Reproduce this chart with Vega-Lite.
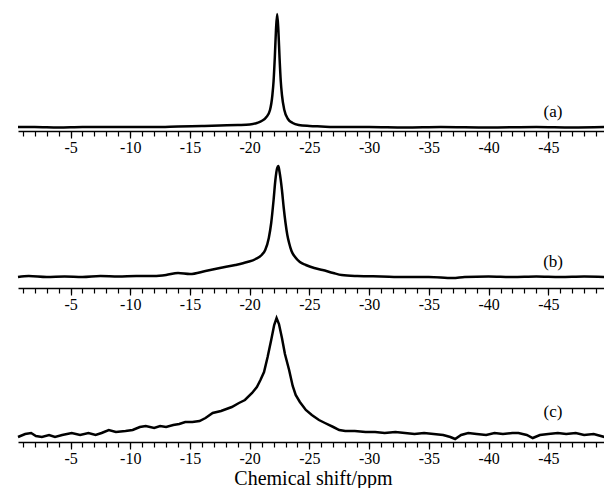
{
  "$schema": "https://vega.github.io/schema/vega-lite/v6.json",
  "padding": {"left": 13, "top": 6, "right": 1, "bottom": 0},
  "background": "white",
  "width": 590,
  "height": 436,
  "config": {
    "font": "Liberation Serif",
    "view": {"stroke": null},
    "axis": {"grid": false, "labelFont": "Liberation Serif", "titleFont": "Liberation Serif", "labelColor": "black", "titleColor": "black", "domainColor": "black", "tickColor": "black"}
  },
  "datasets": {
    "a": [
      {"ppm": -0.6, "v": 4}, {"ppm": -2, "v": 4}, {"ppm": -4, "v": 3.5}, {"ppm": -6, "v": 4}, {"ppm": -8, "v": 4},
      {"ppm": -10, "v": 4}, {"ppm": -12, "v": 4}, {"ppm": -14, "v": 4.5}, {"ppm": -16, "v": 5}, {"ppm": -17.5, "v": 5.5},
      {"ppm": -19, "v": 6}, {"ppm": -20, "v": 6.5}, {"ppm": -20.6, "v": 8}, {"ppm": -21.0, "v": 10}, {"ppm": -21.4, "v": 14},
      {"ppm": -21.7, "v": 21}, {"ppm": -21.9, "v": 36}, {"ppm": -22.0, "v": 50}, {"ppm": -22.1, "v": 73}, {"ppm": -22.2, "v": 101},
      {"ppm": -22.3, "v": 117}, {"ppm": -22.4, "v": 101}, {"ppm": -22.5, "v": 73}, {"ppm": -22.6, "v": 50}, {"ppm": -22.7, "v": 36},
      {"ppm": -22.9, "v": 21}, {"ppm": -23.2, "v": 12}, {"ppm": -23.6, "v": 8}, {"ppm": -24.1, "v": 6}, {"ppm": -25, "v": 5},
      {"ppm": -26, "v": 4.5}, {"ppm": -27, "v": 4}, {"ppm": -30, "v": 4}, {"ppm": -33, "v": 3.5}, {"ppm": -36, "v": 4},
      {"ppm": -40, "v": 3.5}, {"ppm": -44, "v": 4}, {"ppm": -47, "v": 3.5}, {"ppm": -50, "v": 4}
    ],
    "b": [
      {"ppm": -0.6, "v": 11}, {"ppm": -1.5, "v": 12}, {"ppm": -3, "v": 11}, {"ppm": -4.5, "v": 11.5}, {"ppm": -6, "v": 11},
      {"ppm": -7.5, "v": 12}, {"ppm": -9, "v": 11.5}, {"ppm": -10.5, "v": 12}, {"ppm": -12, "v": 12}, {"ppm": -13, "v": 13},
      {"ppm": -14, "v": 15}, {"ppm": -15, "v": 14}, {"ppm": -16.3, "v": 17}, {"ppm": -17.5, "v": 20}, {"ppm": -18.8, "v": 23},
      {"ppm": -19.8, "v": 26}, {"ppm": -20.5, "v": 29}, {"ppm": -21.0, "v": 33}, {"ppm": -21.3, "v": 38}, {"ppm": -21.6, "v": 50},
      {"ppm": -21.8, "v": 65}, {"ppm": -22.0, "v": 88}, {"ppm": -22.15, "v": 108}, {"ppm": -22.3, "v": 120}, {"ppm": -22.4, "v": 122},
      {"ppm": -22.5, "v": 116}, {"ppm": -22.7, "v": 98}, {"ppm": -22.85, "v": 80}, {"ppm": -23.0, "v": 65}, {"ppm": -23.15, "v": 53},
      {"ppm": -23.3, "v": 45}, {"ppm": -23.5, "v": 37}, {"ppm": -23.8, "v": 31}, {"ppm": -24.2, "v": 26}, {"ppm": -24.7, "v": 23},
      {"ppm": -25.4, "v": 20}, {"ppm": -26.1, "v": 18}, {"ppm": -27, "v": 15}, {"ppm": -27.7, "v": 13}, {"ppm": -29, "v": 12},
      {"ppm": -31, "v": 11.5}, {"ppm": -33, "v": 11}, {"ppm": -35, "v": 11}, {"ppm": -37, "v": 10}, {"ppm": -38, "v": 11},
      {"ppm": -40, "v": 11.5}, {"ppm": -42, "v": 11}, {"ppm": -44, "v": 11.5}, {"ppm": -46, "v": 11}, {"ppm": -48, "v": 11.5},
      {"ppm": -50, "v": 11}
    ],
    "c": [
      {"ppm": -0.6, "v": 5}, {"ppm": -1.2, "v": 8}, {"ppm": -1.7, "v": 9}, {"ppm": -2.1, "v": 6}, {"ppm": -2.6, "v": 5},
      {"ppm": -3.2, "v": 7}, {"ppm": -3.7, "v": 5}, {"ppm": -4.3, "v": 7}, {"ppm": -5.1, "v": 9}, {"ppm": -5.8, "v": 7},
      {"ppm": -6.5, "v": 9}, {"ppm": -7.1, "v": 7}, {"ppm": -7.6, "v": 9}, {"ppm": -8.2, "v": 12}, {"ppm": -8.8, "v": 10},
      {"ppm": -9.6, "v": 11}, {"ppm": -10.2, "v": 12}, {"ppm": -10.8, "v": 15}, {"ppm": -11.3, "v": 16}, {"ppm": -12.0, "v": 14},
      {"ppm": -12.5, "v": 16}, {"ppm": -13.0, "v": 15}, {"ppm": -13.6, "v": 17}, {"ppm": -14.1, "v": 18}, {"ppm": -14.6, "v": 20},
      {"ppm": -15.2, "v": 20}, {"ppm": -15.8, "v": 21}, {"ppm": -16.3, "v": 24}, {"ppm": -16.9, "v": 29}, {"ppm": -17.6, "v": 31},
      {"ppm": -18.5, "v": 35}, {"ppm": -19.1, "v": 39}, {"ppm": -19.6, "v": 42}, {"ppm": -20.2, "v": 49}, {"ppm": -20.6, "v": 55},
      {"ppm": -20.9, "v": 62}, {"ppm": -21.2, "v": 70}, {"ppm": -21.5, "v": 85}, {"ppm": -21.8, "v": 102}, {"ppm": -22.05, "v": 117},
      {"ppm": -22.25, "v": 124}, {"ppm": -22.45, "v": 118}, {"ppm": -22.7, "v": 104}, {"ppm": -22.95, "v": 88}, {"ppm": -23.3, "v": 72},
      {"ppm": -23.6, "v": 56}, {"ppm": -23.85, "v": 47}, {"ppm": -24.2, "v": 40}, {"ppm": -24.7, "v": 32}, {"ppm": -25.2, "v": 27},
      {"ppm": -25.8, "v": 22}, {"ppm": -26.3, "v": 19}, {"ppm": -27, "v": 15}, {"ppm": -27.5, "v": 12}, {"ppm": -28.0, "v": 11},
      {"ppm": -28.8, "v": 11}, {"ppm": -29.7, "v": 10}, {"ppm": -30.5, "v": 10}, {"ppm": -31.3, "v": 9}, {"ppm": -32.2, "v": 10},
      {"ppm": -33.0, "v": 9}, {"ppm": -33.8, "v": 8}, {"ppm": -34.6, "v": 9}, {"ppm": -35.4, "v": 8}, {"ppm": -36.2, "v": 7},
      {"ppm": -36.8, "v": 5}, {"ppm": -37.2, "v": 3}, {"ppm": -37.7, "v": 7}, {"ppm": -38.3, "v": 9}, {"ppm": -39.0, "v": 8},
      {"ppm": -39.8, "v": 7}, {"ppm": -40.5, "v": 9}, {"ppm": -41.2, "v": 8}, {"ppm": -42.0, "v": 9}, {"ppm": -42.5, "v": 9},
      {"ppm": -43.2, "v": 7}, {"ppm": -43.7, "v": 4}, {"ppm": -44.3, "v": 7}, {"ppm": -45.0, "v": 8}, {"ppm": -45.8, "v": 9},
      {"ppm": -46.5, "v": 8}, {"ppm": -47.3, "v": 9}, {"ppm": -48.0, "v": 7}, {"ppm": -48.8, "v": 8}, {"ppm": -49.7, "v": 5},
      {"ppm": -50, "v": 6}
    ]
  },
  "resolve": {"scale": {"y": "independent"}, "axis": {"x": "independent", "y": "independent"}},
  "layer": [
    {
      "data": {"name": "a"},
      "mark": {"type": "line", "color": "black", "strokeWidth": 2.5, "interpolate": "monotone"},
      "encoding": {
        "x": {"field": "ppm", "type": "quantitative", "scale": {"domain": [-0.6, -50], "nice": false, "zero": false},
          "axis": {"orient": "bottom", "offset": -311, "values": [-5, -10, -15, -20, -25, -30, -35, -40, -45], "tickSize": 7, "tickWidth": 1.2, "domainWidth": 1.5, "labelFont": "Liberation Serif", "labelFontSize": 16, "labelPadding": 1, "labelExpr": "'' + datum.value", "title": null}},
        "y": {"field": "v", "type": "quantitative", "scale": {"domain": [-311, 125], "nice": false, "zero": false}, "axis": null}
      }
    },
    {
      "data": {"name": "b"},
      "mark": {"type": "line", "color": "black", "strokeWidth": 2.5, "interpolate": "monotone"},
      "encoding": {
        "x": {"field": "ppm", "type": "quantitative",
          "axis": {"orient": "bottom", "offset": -154, "values": [-5, -10, -15, -20, -25, -30, -35, -40, -45], "tickSize": 7, "tickWidth": 1.2, "domainWidth": 1.5, "labelFont": "Liberation Serif", "labelFontSize": 16, "labelPadding": 1, "labelExpr": "'' + datum.value", "title": null}},
        "y": {"field": "v", "type": "quantitative", "scale": {"domain": [-154, 282], "nice": false, "zero": false}, "axis": null}
      }
    },
    {
      "data": {"name": "c"},
      "mark": {"type": "line", "color": "black", "strokeWidth": 2.5},
      "encoding": {
        "x": {"field": "ppm", "type": "quantitative",
          "axis": {"orient": "bottom", "offset": 0, "values": [-5, -10, -15, -20, -25, -30, -35, -40, -45], "tickSize": 7, "tickWidth": 1.2, "domainWidth": 1.5, "labelFont": "Liberation Serif", "labelFontSize": 16, "labelPadding": 1, "labelExpr": "'' + datum.value", "title": "Chemical shift/ppm", "titleFont": "Liberation Serif", "titleFontSize": 20, "titleFontWeight": "normal", "titlePadding": 2}},
        "y": {"field": "v", "type": "quantitative", "scale": {"domain": [0, 436], "nice": false, "zero": false}, "axis": null}
      }
    },
    {
      "data": {"values": [{"ppm": -45.4, "v": 19, "t": "(a)"}]},
      "mark": {"type": "text", "font": "Liberation Serif", "fontSize": 17, "color": "black", "align": "center", "baseline": "middle"},
      "encoding": {
        "x": {"field": "ppm", "type": "quantitative", "axis": {"orient": "bottom", "offset": -311, "values": [-1,-2,-3,-4,-5,-6,-7,-8,-9,-10,-11,-12,-13,-14,-15,-16,-17,-18,-19,-20,-21,-22,-23,-24,-25,-26,-27,-28,-29,-30,-31,-32,-33,-34,-35,-36,-37,-38,-39,-40,-41,-42,-43,-44,-45,-46,-47,-48,-49,-50], "tickSize": 5, "tickWidth": 1.2, "labels": false, "domain": false, "title": null}},
        "y": {"field": "v", "type": "quantitative", "scale": {"domain": [-311, 125], "nice": false, "zero": false}, "axis": null},
        "text": {"field": "t"}
      }
    },
    {
      "data": {"values": [{"ppm": -45.4, "v": 26, "t": "(b)"}]},
      "mark": {"type": "text", "font": "Liberation Serif", "fontSize": 17, "color": "black", "align": "center", "baseline": "middle"},
      "encoding": {
        "x": {"field": "ppm", "type": "quantitative", "axis": {"orient": "bottom", "offset": -154, "values": [-1,-2,-3,-4,-5,-6,-7,-8,-9,-10,-11,-12,-13,-14,-15,-16,-17,-18,-19,-20,-21,-22,-23,-24,-25,-26,-27,-28,-29,-30,-31,-32,-33,-34,-35,-36,-37,-38,-39,-40,-41,-42,-43,-44,-45,-46,-47,-48,-49,-50], "tickSize": 5, "tickWidth": 1.2, "labels": false, "domain": false, "title": null}},
        "y": {"field": "v", "type": "quantitative", "scale": {"domain": [-154, 282], "nice": false, "zero": false}, "axis": null},
        "text": {"field": "t"}
      }
    },
    {
      "data": {"values": [{"ppm": -45.4, "v": 30, "t": "(c)"}]},
      "mark": {"type": "text", "font": "Liberation Serif", "fontSize": 17, "color": "black", "align": "center", "baseline": "middle"},
      "encoding": {
        "x": {"field": "ppm", "type": "quantitative", "axis": {"orient": "bottom", "offset": 0, "values": [-1,-2,-3,-4,-5,-6,-7,-8,-9,-10,-11,-12,-13,-14,-15,-16,-17,-18,-19,-20,-21,-22,-23,-24,-25,-26,-27,-28,-29,-30,-31,-32,-33,-34,-35,-36,-37,-38,-39,-40,-41,-42,-43,-44,-45,-46,-47,-48,-49,-50], "tickSize": 5, "tickWidth": 1.2, "labels": false, "domain": false, "title": null}},
        "y": {"field": "v", "type": "quantitative", "scale": {"domain": [0, 436], "nice": false, "zero": false}, "axis": null},
        "text": {"field": "t"}
      }
    }
  ]
}
